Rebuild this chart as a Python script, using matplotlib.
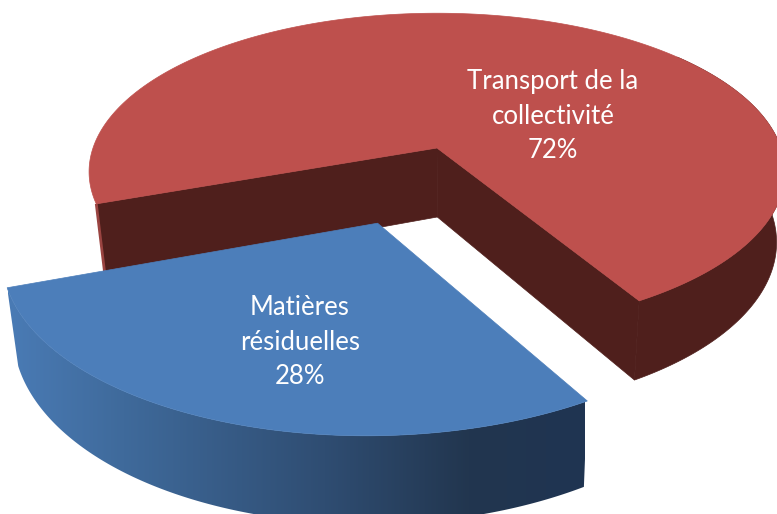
#!/usr/bin/env python3
# -*- coding: utf-8 -*-

import numpy as np
import matplotlib
matplotlib.use("Agg")
import matplotlib.pyplot as plt
from matplotlib.colors import LinearSegmentedColormap
from matplotlib.patches import Polygon

categories = ["Matières\nrésiduelles", "Transport de la\ncollectivité"]
values = [28, 72]

# perspective of the disc, in pixels of the picture
cx, cy = 437, 148
rx, ry = 344, 155
persp = 0.15
depth = 69
vanish_x = 450
shrink = 0.975
start = 200.0
explode = 0.48
front_limit = 400.0  # the red wall is only seen up to here on the right

red_top = "#BE504D"
red_side = "#4F1F1C"
red_edge = "#9A4441"
blue_top = "#4C7EBA"
blue_cmap = LinearSegmentedColormap.from_list(
    "blue_side", [(0, "#4A7BB5"), (0.2, "#3F6A9B"), (0.55, "#2F4D72"),
                  (0.8, "#22364F"), (1, "#1F3452")])


def project(u, v, bottom=False):
    w = 1 + persp * v
    x = cx + rx * u / w
    y = cy - ry * v / w
    if bottom:
        x = vanish_x + (x - vanish_x) * shrink
        y = y + depth / w
    return x, y


def rim(a0, a1, off=(0, 0), bottom=False, n=400):
    t = np.radians(np.linspace(a0, a1, n))
    return project(np.cos(t) + off[0], np.sin(t) + off[1], bottom)


def side_gradient(ax, a0, a1, off, cmap, x0, x1, zorder):
    # the outer wall of a slice, a horizontal gradient clipped to its outline
    xt, yt = rim(a0, a1, off)
    xb, yb = rim(a0, a1, off, True)
    pts = np.c_[np.r_[xt, xb[::-1]], np.r_[yt, yb[::-1]]]
    patch = Polygon(pts, closed=True, fc="none", ec="none", transform=ax.transData)
    ax.add_patch(patch)
    grad = np.linspace(0, 1, 256).reshape(1, -1)
    im = ax.imshow(grad, cmap=cmap, extent=(x0, x1, 514, 0), aspect="auto",
                   interpolation="bilinear", zorder=zorder)
    im.set_clip_path(patch)


def side_flat(ax, a0, a1, off, color, zorder):
    xt, yt = rim(a0, a1, off)
    xb, yb = rim(a0, a1, off, True)
    ax.fill(np.r_[xt, xb[::-1]], np.r_[yt, yb[::-1]], color=color, lw=0.5, zorder=zorder)


def top_face(ax, a0, a1, off, color, zorder):
    x, y = rim(a0, a1, off)
    ax_, ay_ = project(off[0], off[1])
    ax.fill(np.r_[ax_, x], np.r_[ay_, y], color=color, lw=0.5, zorder=zorder)


def cut_wall(ax, angle, off, color):
    t = np.radians(angle)
    x0, y0 = project(off[0], off[1])
    x1, y1 = project(off[0] + np.cos(t), off[1] + np.sin(t))
    x2, y2 = project(off[0] + np.cos(t), off[1] + np.sin(t), True)
    x3, y3 = project(off[0], off[1], True)
    ax.fill([x0, x1, x2, x3], [y0, y1, y2, y3], color=color, lw=0.5, zorder=2)
    return (x1, x2), (y1, y2)


fig = plt.figure(figsize=(7.77, 5.14), dpi=100)
ax = fig.add_axes([0, 0, 1, 1])

total = float(sum(values))
blue_sweep = 360 * values[0] / total
red_sweep = 360 * values[1] / total
blue_end = start + blue_sweep
red_end = blue_end + red_sweep

mid = np.radians(start + blue_sweep / 2)
blue_off = (explode * np.cos(mid), explode * np.sin(mid))
red_off = (0, 0)

# red slice
side_flat(ax, blue_end, front_limit, red_off, red_side, 1)
cut_wall(ax, blue_end, red_off, red_side)
edge_x, edge_y = cut_wall(ax, start, red_off, red_side)
ax.plot(edge_x, edge_y, color=red_edge, lw=2, zorder=2, solid_capstyle="butt")
top_face(ax, blue_end, red_end, red_off, red_top, 3)

# blue slice, in front of the red one
side_gradient(ax, start, blue_end, blue_off, blue_cmap, 8, 585, 4)
top_face(ax, start, blue_end, blue_off, blue_top, 5)

font = {"family": "Lato", "color": "white", "fontsize": 18.5, "ha": "center",
        "va": "center", "linespacing": 1.48, "zorder": 6}
ax.text(300, 342, "%s\n%d%%" % (categories[0], values[0]), **font)
ax.text(553, 116, "%s\n%d%%" % (categories[1], values[1]), **font)

ax.set_xlim(0, 777)
ax.set_ylim(514, 0)
ax.axis("off")

fig.savefig("out.png", dpi=100, facecolor="white")
